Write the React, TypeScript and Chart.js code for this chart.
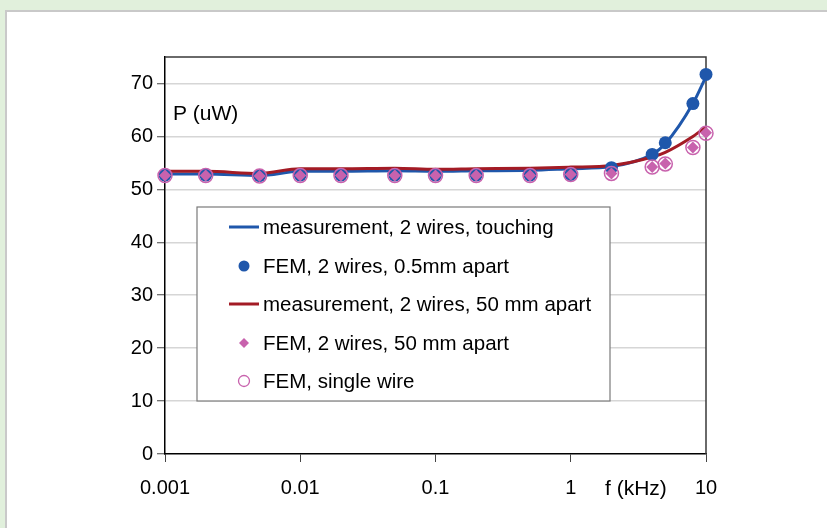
import React, { useEffect, useRef } from "react";
import { Chart, registerables } from "chart.js";

Chart.register(...registerables);

// frequency (kHz)
const freqs = [0.001, 0.002, 0.005, 0.01, 0.02, 0.05, 0.1, 0.2, 0.5, 1, 2, 4, 5, 8, 10];
// P (uW)
const measTouching = [52.9, 52.9, 52.6, 53.4, 53.4, 53.5, 53.4, 53.5, 53.6, 53.9, 54.3, 56.6, 58.6, 66.2, 71.3];
const fem05mm = [52.7, 52.7, 52.6, 52.7, 52.7, 52.7, 52.7, 52.7, 52.7, 52.8, 54.1, 56.6, 58.8, 66.2, 71.7];
const meas50mm = [53.4, 53.4, 53.0, 53.9, 53.9, 54.0, 53.8, 53.9, 54.0, 54.2, 54.5, 56.1, 57.0, 60.0, 61.8];
const fem50mm = [52.6, 52.6, 52.5, 52.6, 52.6, 52.6, 52.6, 52.6, 52.6, 52.8, 53.0, 54.2, 54.9, 57.9, 60.7];
const femSingle = [52.6, 52.6, 52.5, 52.6, 52.6, 52.6, 52.6, 52.6, 52.6, 52.8, 53.0, 54.2, 54.8, 57.9, 60.6];

const xTickValues = [0.001, 0.01, 0.1, 1, 10];
const xTickLabels = ["0.001", "0.01", "0.1", "1", "10"];
const yTickLabels = ["0", "10", "20", "30", "40", "50", "60", "70"];

const seriesLabels = [
  "measurement, 2 wires, touching",
  "FEM, 2 wires, 0.5mm apart",
  "measurement, 2 wires, 50 mm apart",
  "FEM, 2 wires, 50 mm apart",
  "FEM, single wire",
];

const BLUE = "#1f57ab";
const RED = "#a31b25";
const PINK = "#c862ad";
const FONT = "'Liberation Sans', Arial, sans-serif";

const pts = (ys: number[]) => freqs.map((x, i) => ({ x, y: ys[i] }));

const framePlugin = {
  id: "frame",
  beforeDatasetsDraw(chart: any) {
    const { ctx, chartArea: a } = chart;
    ctx.save();
    ctx.strokeStyle = "#3a3a3a";
    ctx.lineWidth = 1.5;
    ctx.beginPath();
    ctx.moveTo(a.left, a.top);
    ctx.lineTo(a.right, a.top);
    ctx.lineTo(a.right, a.bottom);
    ctx.stroke();
    ctx.restore();
  },
};

const textPlugin = {
  id: "texts",
  afterDraw(chart: any) {
    const { ctx, chartArea: a } = chart;
    ctx.save();
    ctx.fillStyle = "#000";
    ctx.font = `21px ${FONT}`;
    ctx.textBaseline = "alphabetic";
    ctx.textAlign = "left";
    ctx.fillText("P (uW)", a.left + 8, 120);
    ctx.fillText("f (kHz)", 605, 495);
    ctx.restore();
  },
};

const legendPlugin = {
  id: "customLegend",
  afterDraw(chart: any) {
    const { ctx } = chart;
    const box = { l: 197, t: 207, r: 610, b: 401 };
    ctx.save();
    ctx.fillStyle = "#fff";
    ctx.fillRect(box.l, box.t, box.r - box.l, box.b - box.t);
    ctx.strokeStyle = "#7a7a7a";
    ctx.lineWidth = 1.2;
    ctx.strokeRect(box.l, box.t, box.r - box.l, box.b - box.t);
    const rowY = [227, 266, 304, 343, 381];
    chart.data.datasets.forEach((ds: any, i: number) => {
      const y = rowY[i];
      const cx = 244;
      if (ds.showLine) {
        ctx.strokeStyle = ds.borderColor;
        ctx.lineWidth = 3;
        ctx.beginPath();
        ctx.moveTo(229, y);
        ctx.lineTo(259, y);
        ctx.stroke();
      } else if (ds.pointStyle === "rectRot") {
        ctx.fillStyle = ds.pointBackgroundColor;
        ctx.beginPath();
        ctx.moveTo(cx, y - 5);
        ctx.lineTo(cx + 5, y);
        ctx.lineTo(cx, y + 5);
        ctx.lineTo(cx - 5, y);
        ctx.closePath();
        ctx.fill();
      } else if (ds.pointBackgroundColor === "rgba(0,0,0,0)") {
        ctx.strokeStyle = ds.pointBorderColor;
        ctx.lineWidth = 1.3;
        ctx.beginPath();
        ctx.arc(cx, y, 5.5, 0, Math.PI * 2);
        ctx.stroke();
      } else {
        ctx.fillStyle = ds.pointBackgroundColor;
        ctx.beginPath();
        ctx.arc(cx, y, 5.5, 0, Math.PI * 2);
        ctx.fill();
      }
      ctx.fillStyle = "#000";
      ctx.font = `20.5px ${FONT}`;
      ctx.textAlign = "left";
      ctx.textBaseline = "middle";
      ctx.fillText(ds.label, 263, y + 1);
    });
    ctx.restore();
  },
};

export default function App() {
  const ref = useRef<HTMLCanvasElement | null>(null);

  useEffect(() => {
    if (!ref.current) return;
    const chart = new Chart(ref.current, {
      type: "line",
      data: {
        datasets: [
          {
            label: seriesLabels[0],
            data: pts(measTouching),
            showLine: true,
            borderColor: BLUE,
            backgroundColor: BLUE,
            borderWidth: 3,
            pointRadius: 0,
            cubicInterpolationMode: "monotone",
            clip: false,
            order: 4,
          },
          {
            label: seriesLabels[1],
            data: pts(fem05mm),
            showLine: false,
            pointStyle: "circle",
            pointRadius: 6.5,
            pointBackgroundColor: BLUE,
            pointBorderColor: BLUE,
            pointBorderWidth: 0,
            borderColor: BLUE,
            clip: false,
            order: 3,
          },
          {
            label: seriesLabels[2],
            data: pts(meas50mm),
            showLine: true,
            borderColor: RED,
            backgroundColor: RED,
            borderWidth: 3,
            pointRadius: 0,
            cubicInterpolationMode: "monotone",
            clip: false,
            order: 3.5,
          },
          {
            label: seriesLabels[3],
            data: pts(fem50mm),
            showLine: false,
            pointStyle: "rectRot",
            pointRadius: 6,
            pointBackgroundColor: PINK,
            pointBorderColor: PINK,
            pointBorderWidth: 0,
            borderColor: PINK,
            clip: false,
            order: 2,
          },
          {
            label: seriesLabels[4],
            data: pts(femSingle),
            showLine: false,
            pointStyle: "circle",
            pointRadius: 7,
            pointBackgroundColor: "rgba(0,0,0,0)",
            pointBorderColor: PINK,
            pointBorderWidth: 1.5,
            borderColor: PINK,
            clip: false,
            order: 1,
          },
        ],
      },
      options: {
        responsive: false,
        animation: false,
        devicePixelRatio: 1,
        layout: { padding: { left: 0, top: 57, right: 121, bottom: 0 } },
        plugins: {
          legend: { display: false },
          tooltip: { enabled: false },
        },
        scales: {
          x: {
            type: "logarithmic",
            min: 0.001,
            max: 10,
            afterBuildTicks: (s: any) => {
              s.ticks = xTickValues.map((v) => ({ value: v }));
            },
            afterFit: (s: any) => {
              s.height = 74;
            },
            border: { display: true, color: "#000", width: 1.5 },
            grid: {
              drawOnChartArea: false,
              drawTicks: true,
              tickLength: 8,
              tickColor: "#444",
              tickWidth: 1,
            },
            ticks: {
              autoSkip: false,
              maxRotation: 0,
              padding: 14,
              color: "#000",
              font: { family: FONT, size: 20 },
              callback: (_v: any, i: number) => xTickLabels[i],
            },
          },
          y: {
            type: "linear",
            min: 0,
            max: 75,
            afterBuildTicks: (s: any) => {
              s.ticks = yTickLabels.map((t) => ({ value: Number(t) }));
            },
            afterFit: (s: any) => {
              s.width = 165;
            },
            border: { display: true, color: "#000", width: 1.5 },
            grid: {
              color: (c: any) => (c.tick && c.tick.value === 0 ? "rgba(0,0,0,0)" : "#d6d6d6"),
              lineWidth: 1.5,
              drawTicks: true,
              tickLength: 8,
              tickColor: "#444",
              tickWidth: 1,
            },
            ticks: {
              padding: 4,
              color: "#000",
              font: { family: FONT, size: 20 },
              callback: (_v: any, i: number) => yTickLabels[i],
            },
          },
        },
      },
      plugins: [framePlugin, legendPlugin, textPlugin],
    } as any);
    return () => chart.destroy();
  }, []);

  return (
    <div
      style={{
        position: "fixed",
        left: 0,
        top: 0,
        width: 827,
        height: 528,
        background: "#e1f0dc",
        overflow: "hidden",
      }}
    >
      <div
        style={{
          position: "absolute",
          left: 5,
          top: 10,
          right: 0,
          bottom: 0,
          background: "#fff",
          borderTop: "2px solid #c9c9c9",
          borderLeft: "2px solid #c9c9c9",
        }}
      />
      <canvas
        ref={ref}
        width={827}
        height={528}
        style={{ position: "absolute", left: 0, top: 0, width: 827, height: 528 }}
      />
    </div>
  );
}
